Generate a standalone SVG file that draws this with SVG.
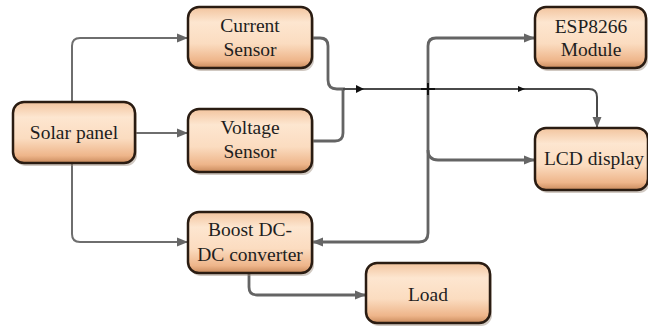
<svg xmlns="http://www.w3.org/2000/svg" width="648" height="326" viewBox="0 0 648 326">
<defs>
<linearGradient id="g" x1="0" y1="0" x2="0" y2="1">
<stop offset="0" stop-color="#f2c49e"/>
<stop offset="0.25" stop-color="#fde6d0"/>
<stop offset="0.6" stop-color="#fbdcc0"/>
<stop offset="0.88" stop-color="#eeb58a"/>
<stop offset="1" stop-color="#c98a5c"/>
</linearGradient>
<marker id="ah" markerUnits="userSpaceOnUse" markerWidth="12" markerHeight="10" refX="11" refY="5" orient="auto">
<path d="M0,0.5 L11,5 L0,9.5 z" fill="#666"/>
</marker>
</defs>
<style>
.box{fill:url(#g);stroke:#2a1c12;stroke-width:2.5}
.sh{fill:#9a8878;opacity:0.45}
.t{font-size:19.5px;fill:#1e1e1e;text-anchor:middle}
.c{fill:none;stroke:#646464;stroke-width:2.8;stroke-linejoin:round}
.c2{fill:none;stroke:#6e6e6e;stroke-width:2}
.c3{fill:none;stroke:#4a4a4a;stroke-width:2}
</style>
<rect width="648" height="326" fill="#ffffff"/>
<g id="connectors">
<path class="c2" d="M72,102 V46 Q72,38 80,38 H188" marker-end="url(#ah)"/>
<path class="c2" d="M135,133 H188" marker-end="url(#ah)"/>
<path class="c2" d="M72,163 V234 Q72,242 80,242 H188" marker-end="url(#ah)"/>
<path class="c" d="M312,38 H320 Q328,38 328,46 V80 Q328,89 337,89 H345"/>
<path class="c" d="M312,141 H335 Q343,141 343,133 V89"/>
<path class="c3" d="M343,89 H589 Q597,89 597,97 V128" marker-end="url(#ah)"/>
<path d="M356,85 L364,89 L356,93 z" fill="#111"/>
<path d="M518,86 L525,89 L518,92 z" fill="#111"/>
<path class="c" d="M428,150 V46 Q428,38 436,38 H535" marker-end="url(#ah)"/>
<path class="c" d="M428,150 Q428,160 438,160 H535" marker-end="url(#ah)"/>
<path class="c" d="M428,150 V233 Q428,242 419,242 H312" marker-end="url(#ah)"/>
<path class="c" d="M249,273 V287 Q249,295 257,295 H366" marker-end="url(#ah)"/>
<path d="M421,89 H435 M428,83 V95" stroke="#111" stroke-width="2"/>
</g>
<g font-family="Liberation Serif, DejaVu Serif, serif">
<g id="solar">
<rect class="sh" x="15" y="105" width="122" height="61" rx="11"/>
<rect class="box" x="13" y="102" width="122" height="61" rx="11"/>
<text class="t" x="74" y="139">Solar panel</text>
</g>
<g id="current">
<rect class="sh" x="190" y="10" width="124" height="61" rx="11"/>
<rect class="box" x="188" y="7" width="124" height="61" rx="11"/>
<text class="t" x="250" y="32">Current</text>
<text class="t" x="250" y="56">Sensor</text>
</g>
<g id="voltage">
<rect class="sh" x="190" y="112" width="124" height="63" rx="11"/>
<rect class="box" x="188" y="109" width="124" height="63" rx="11"/>
<text class="t" x="250" y="134">Voltage</text>
<text class="t" x="250" y="158">Sensor</text>
</g>
<g id="boost">
<rect class="sh" x="190" y="215" width="124" height="61" rx="11"/>
<rect class="box" x="188" y="212" width="124" height="61" rx="11"/>
<text class="t" x="250" y="236">Boost DC-</text>
<text class="t" x="250" y="261">DC converter</text>
</g>
<g id="load">
<rect class="sh" x="368" y="266" width="124" height="60" rx="11"/>
<rect class="box" x="366" y="263" width="124" height="60" rx="11"/>
<text class="t" x="428" y="301">Load</text>
</g>
<g id="esp">
<rect class="sh" x="537" y="10" width="111" height="61" rx="11"/>
<rect class="box" x="535" y="7" width="111" height="61" rx="11"/>
<text class="t" x="591" y="33">ESP8266</text>
<text class="t" x="591" y="56">Module</text>
</g>
<g id="lcd">
<rect class="sh" x="537" y="131" width="113" height="62" rx="11"/>
<rect class="box" x="535" y="128" width="113" height="62" rx="11"/>
<text class="t" x="594" y="165">LCD display</text>
</g>
</g>
</svg>
